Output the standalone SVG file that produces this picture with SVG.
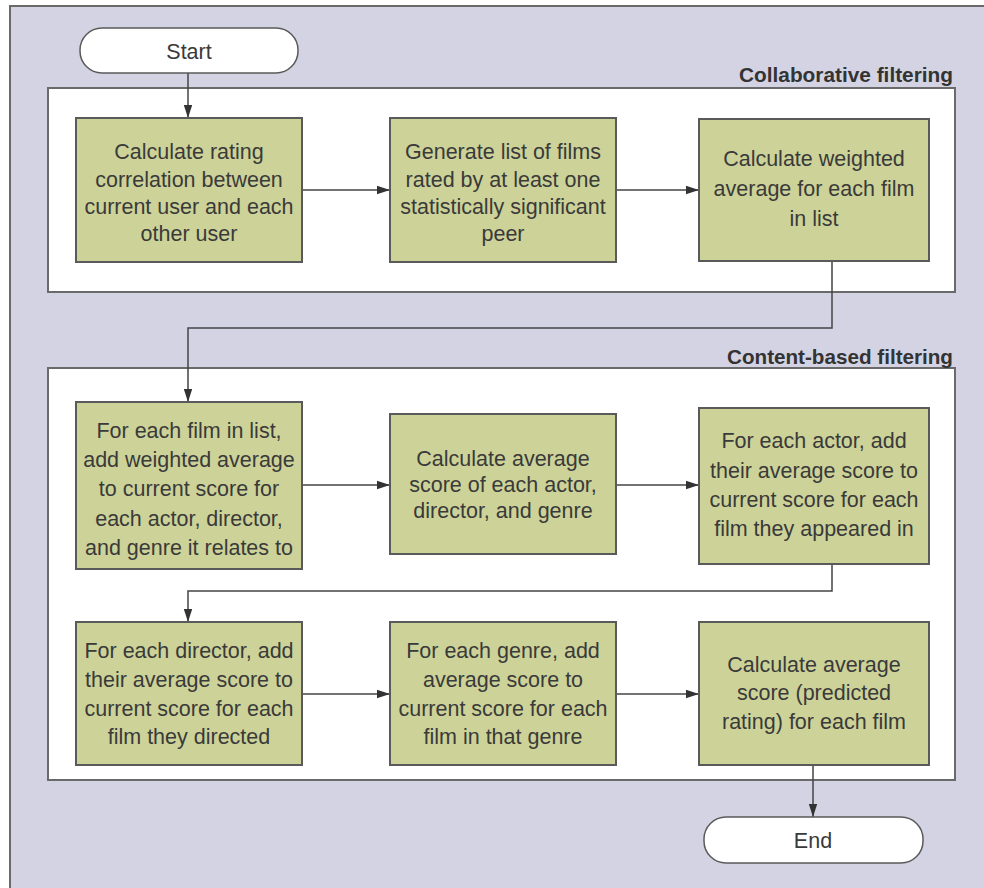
<svg xmlns="http://www.w3.org/2000/svg" width="984" height="888" viewBox="0 0 984 888">
<defs>
<marker id="ah" markerWidth="14" markerHeight="10" refX="13" refY="5" orient="auto" markerUnits="userSpaceOnUse">
<path d="M0,0.8 L13,5 L0,9.2 Z" fill="#333"/>
</marker>
<style>
.bg{fill:#d4d3e3;stroke:#6a6a6a;stroke-width:2}
.panel{fill:#fff;stroke:#6a6a6a;stroke-width:2}
.box{fill:#cdd398;stroke:#5a5a5a;stroke-width:2}
.term{fill:#fff;stroke:#5a5a5a;stroke-width:1.5}
.t{font-family:"Liberation Sans Narrow","Liberation Sans",Arial,sans-serif;font-size:21.5px;fill:#3a3a3a;text-anchor:middle}
.lbl{font-family:"Liberation Sans Narrow","Liberation Sans",Arial,sans-serif;font-size:21px;font-weight:bold;fill:#333;text-anchor:end}
.c{fill:none;stroke:#444;stroke-width:1.5}
</style>
</defs>
<rect class="bg" x="10" y="6" width="990" height="900"/>
<g id="collab-panel">
<rect class="panel" x="48" y="88" width="907" height="204"/>
<text class="lbl" x="953" y="82" textLength="214" lengthAdjust="spacingAndGlyphs">Collaborative filtering</text>
</g>
<g id="content-panel">
<rect class="panel" x="48" y="368" width="907" height="412"/>
<text class="lbl" x="953" y="364" textLength="226" lengthAdjust="spacingAndGlyphs">Content-based filtering</text>
</g>
<g id="connectors">
<path class="c" d="M188,73 V118" marker-end="url(#ah)"/>
<path class="c" d="M302,190 H390" marker-end="url(#ah)"/>
<path class="c" d="M616,190 H699" marker-end="url(#ah)"/>
<path class="c" d="M832,261 V328 H188 V402" marker-end="url(#ah)"/>
<path class="c" d="M302,485 H390" marker-end="url(#ah)"/>
<path class="c" d="M616,485 H699" marker-end="url(#ah)"/>
<path class="c" d="M832,564 V591 H188 V622" marker-end="url(#ah)"/>
<path class="c" d="M302,694 H390" marker-end="url(#ah)"/>
<path class="c" d="M616,694 H699" marker-end="url(#ah)"/>
<path class="c" d="M813,765 V817" marker-end="url(#ah)"/>
</g>
<g id="start">
<rect class="term" x="80" y="28" width="218" height="45" rx="22" ry="22"/>
<text class="t" x="189" y="59">Start</text>
</g>
<g id="n1">
<rect class="box" x="76" y="118" width="226" height="144"/>
<text class="t" x="189" y="159">Calculate rating</text>
<text class="t" x="189" y="187">correlation between</text>
<text class="t" x="189" y="214">current user and each</text>
<text class="t" x="189" y="241">other user</text>
</g>
<g id="n2">
<rect class="box" x="390" y="118" width="226" height="144"/>
<text class="t" x="503" y="159">Generate list of films</text>
<text class="t" x="503" y="187">rated by at least one</text>
<text class="t" x="503" y="214">statistically significant</text>
<text class="t" x="503" y="241">peer</text>
</g>
<g id="n3">
<rect class="box" x="699" y="119" width="230" height="142"/>
<text class="t" x="814" y="166">Calculate weighted</text>
<text class="t" x="814" y="196">average for each film</text>
<text class="t" x="814" y="226">in list</text>
</g>
<g id="n4">
<rect class="box" x="76" y="402" width="226" height="167"/>
<text class="t" x="189" y="438">For each film in list,</text>
<text class="t" x="189" y="467">add weighted average</text>
<text class="t" x="189" y="496">to current score for</text>
<text class="t" x="189" y="526">each actor, director,</text>
<text class="t" x="189" y="555">and genre it relates to</text>
</g>
<g id="n5">
<rect class="box" x="390" y="414" width="226" height="140"/>
<text class="t" x="503" y="466">Calculate average</text>
<text class="t" x="503" y="492">score of each actor,</text>
<text class="t" x="503" y="518">director, and genre</text>
</g>
<g id="n6">
<rect class="box" x="699" y="408" width="230" height="156"/>
<text class="t" x="814" y="448">For each actor, add</text>
<text class="t" x="814" y="478">their average score to</text>
<text class="t" x="814" y="507">current score for each</text>
<text class="t" x="814" y="536">film they appeared in</text>
</g>
<g id="n7">
<rect class="box" x="76" y="622" width="226" height="143"/>
<text class="t" x="189" y="658">For each director, add</text>
<text class="t" x="189" y="687">their average score to</text>
<text class="t" x="189" y="716">current score for each</text>
<text class="t" x="189" y="744">film they directed</text>
</g>
<g id="n8">
<rect class="box" x="390" y="622" width="226" height="143"/>
<text class="t" x="503" y="658">For each genre, add</text>
<text class="t" x="503" y="687">average score to</text>
<text class="t" x="503" y="716">current score for each</text>
<text class="t" x="503" y="744">film in that genre</text>
</g>
<g id="n9">
<rect class="box" x="699" y="622" width="230" height="143"/>
<text class="t" x="814" y="672">Calculate average</text>
<text class="t" x="814" y="700">score (predicted</text>
<text class="t" x="814" y="729">rating) for each film</text>
</g>
<g id="end">
<rect class="term" x="704" y="817" width="219" height="46" rx="22" ry="22"/>
<text class="t" x="813" y="848">End</text>
</g>
</svg>
